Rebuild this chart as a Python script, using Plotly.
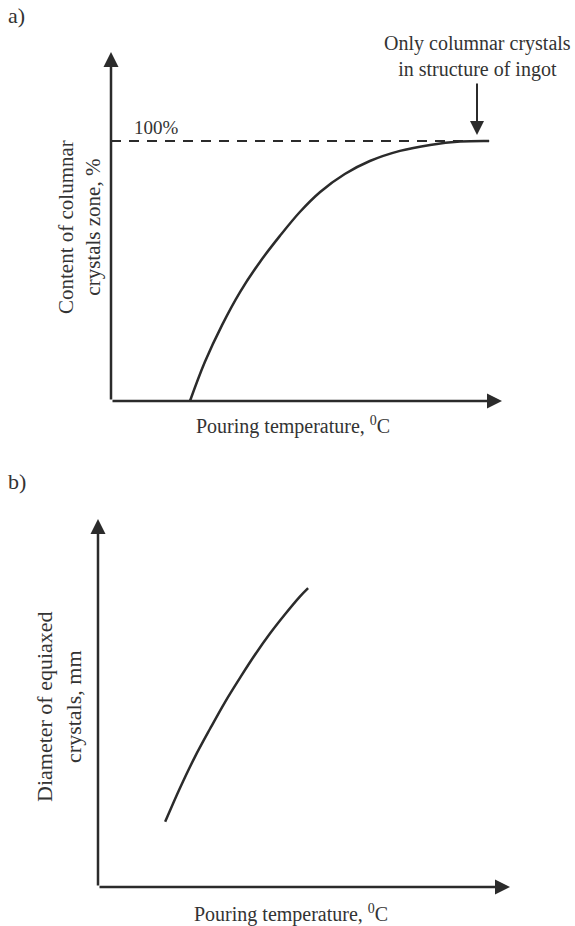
import plotly.graph_objects as go

# ---------------- data ----------------
# Panel a: content of columnar crystals zone (%) vs pouring temperature (arbitrary units)
a_temp = [20.2, 24.0, 28.4, 33.0, 38.1, 43.2, 48.3, 53.5, 59.8, 66.2, 73.9, 81.6, 89.3, 96.7]
a_content = [0, 15.0, 29.2, 41.9, 53.5, 63.5, 72.7, 80.4, 87.3, 92.3, 96.2, 98.5, 99.8, 100]
a_ref_temp = [0, 96.7]
a_ref_level = [100, 100]

# Panel b: diameter of equiaxed crystals vs pouring temperature (arbitrary units)
b_temp = [16.3, 19.9, 23.5, 27.2, 30.8, 34.5, 38.1, 41.7, 45.4, 49.0, 51.0]
b_diam = [17.7, 26.9, 35.3, 43.0, 50.2, 56.9, 63.1, 68.8, 74.1, 78.9, 81.2]

# ---------------- style ----------------
W, H = 575, 926
INK = "#2b2b2b"
TXT = "#333333"
FONT = "Liberation Serif"
FS = 20

fig = go.Figure()

fig.add_trace(go.Scatter(x=a_ref_temp, y=a_ref_level, mode="lines",
                         line=dict(color=INK, width=2.2, dash="10px,8px"),
                         xaxis="x", yaxis="y", hoverinfo="skip"))
fig.add_trace(go.Scatter(x=a_temp, y=a_content, mode="lines",
                         line=dict(color=INK, width=2.5, shape="spline", smoothing=1.0),
                         xaxis="x", yaxis="y"))
fig.add_trace(go.Scatter(x=b_temp, y=b_diam, mode="lines",
                         line=dict(color=INK, width=2.5, shape="spline", smoothing=1.0),
                         xaxis="x2", yaxis="y2"))

# axis ranges chosen so that data map onto the drawing area
# panel a: origin at px (111, 401); x=100 at px 502; y=100 at px 141
ax_px_x0, ax_px_x100 = 111, 502
ay_px_y0, ay_px_y100 = 401, 141
sx = (ax_px_x100 - ax_px_x0) / 100.0
sy = (ay_px_y0 - ay_px_y100) / 100.0
xa_range = [-ax_px_x0 / sx, (W - ax_px_x0) / sx]
ya_range = [-(H / 2 - ay_px_y0) / sy, ay_px_y0 / sy]
a_ytip = (ay_px_y0 - 52) / sy

# panel b: origin at px (98, 887); x=100 at px 510; y=100 at px 519
bx0, bx100 = 98, 510
by0, by100 = 887, 519
sbx = (bx100 - bx0) / 100.0
sby = (by0 - by100) / 100.0
xb_range = [-bx0 / sbx, (W - bx0) / sbx]
yb_range = [-(H - by0) / sby, (by0 - H / 2) / sby]

hidden = dict(visible=False, showgrid=False, zeroline=False, fixedrange=True)
fig.update_layout(
    width=W, height=H,
    margin=dict(l=0, r=0, t=0, b=0),
    paper_bgcolor="white", plot_bgcolor="rgba(0,0,0,0)",
    showlegend=False,
    font=dict(family=FONT, size=FS, color=TXT),
    xaxis=dict(domain=[0, 1], range=xa_range, anchor="y", **hidden),
    yaxis=dict(domain=[0.5, 1], range=ya_range, anchor="x", **hidden),
    xaxis2=dict(domain=[0, 1], range=xb_range, anchor="y2", **hidden),
    yaxis2=dict(domain=[0, 0.5], range=yb_range, anchor="x2", **hidden),
)

def axis_arrow(xref, yref, x, y):
    return dict(xref=xref, yref=yref, axref=xref, ayref=yref,
                x=x, y=y, ax=0, ay=0, text="", showarrow=True,
                arrowhead=2, arrowsize=1.2, arrowwidth=2.5, arrowcolor=INK, standoff=0)

anns = [
    axis_arrow("x", "y", 0, a_ytip),
    axis_arrow("x", "y", 100, 0),
    axis_arrow("x2", "y2", 0, 100),
    axis_arrow("x2", "y2", 100, 0),
    # pointer arrow
    dict(xref="x", yref="y", axref="x", ayref="y",
         x=(477 - ax_px_x0) / sx, y=(ay_px_y0 - 135) / sy,
         ax=(477 - ax_px_x0) / sx, ay=(ay_px_y0 - 82) / sy,
         text="", showarrow=True, arrowhead=2, arrowsize=1.4, arrowwidth=2,
         arrowcolor=INK, standoff=0),
    dict(xref="x", yref="y", x=(477 - ax_px_x0) / sx, y=(ay_px_y0 - 56) / sy,
         text="Only columnar crystals<br>in structure of ingot", showarrow=False,
         xanchor="center", yanchor="middle", align="center"),
    dict(xref="x", yref="y", x=(132 - ax_px_x0) / sx, y=(ay_px_y0 - 127) / sy,
         text="100%", showarrow=False, xanchor="left", yanchor="middle",
         font=dict(size=19)),
    # axis titles
    dict(xref="paper", yref="paper", x=293 / W, y=1 - 425 / H,
         text="Pouring temperature, <sup>0</sup>C", showarrow=False,
         xanchor="center", yanchor="middle"),
    dict(xref="paper", yref="paper", x=79 / W, y=1 - 227 / H,
         text="Content of columnar<br>crystals zone, %", showarrow=False,
         textangle=-90, xanchor="center", yanchor="middle", align="center",
         font=dict(size=21)),
    dict(xref="paper", yref="paper", x=291 / W, y=1 - 913 / H,
         text="Pouring temperature, <sup>0</sup>C", showarrow=False,
         xanchor="center", yanchor="middle"),
    dict(xref="paper", yref="paper", x=59 / W, y=1 - 707 / H,
         text="Diameter of equiaxed<br>crystals, mm", showarrow=False,
         textangle=-90, xanchor="center", yanchor="middle", align="center",
         font=dict(size=22)),
    # panel labels
    dict(xref="paper", yref="paper", x=6 / W, y=1 - 16 / H, text="a)",
         showarrow=False, xanchor="left", yanchor="middle", font=dict(size=22)),
    dict(xref="paper", yref="paper", x=6 / W, y=1 - 481 / H, text="b)",
         showarrow=False, xanchor="left", yanchor="middle", font=dict(size=22)),
]
fig.update_layout(annotations=anns)

fig.write_html("out.html", config=dict(displayModeBar=False))
